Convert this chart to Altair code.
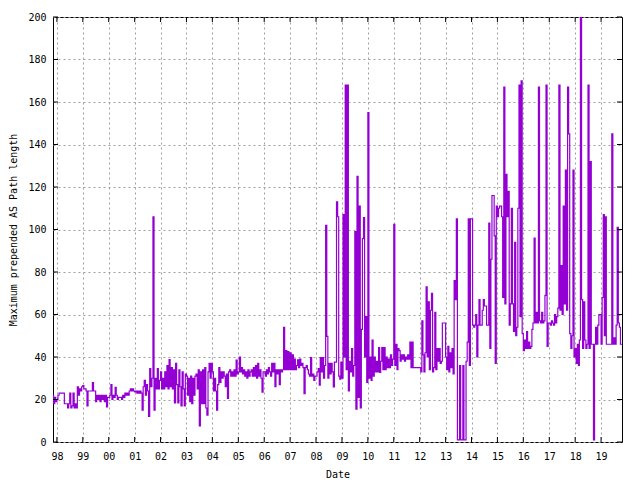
import altair as alt
import pandas as pd

# Half-month samples (index i -> month i//2+1, day 1 or 16)
y1997 = [22, 18, 21, 19]  # starts at index 20 (Nov 1997)
y1998 = [20, 22, 23, 23, 23, 23, 23, 18, 18, 18, 16, 18, 23, 16, 17, 23, 16, 18, 16, 26, 22, 25, 24, 26]
y1999 = [26.5, 25, 25, 24, 17, 24, 24, 24, 24, 28, 24, 24, 19, 22, 20, 22, 19, 22, 20, 22, 19, 22, 16.5, 21]
y2000 = [21, 22, 27, 20, 22, 21, 25.7, 22, 20, 21, 21, 21, 20, 22, 21, 23, 22, 23, 22, 24, 25, 24, 25, 24]
y2001 = [23.6, 24, 23, 24, 23, 24, 23, 15, 26, 29, 22, 27, 24, 12, 34.6, 26, 30, 106, 15, 30, 25, 34.6, 25, 29]
y2002 = [33, 25, 30, 25, 33, 26, 36, 25, 38.8, 26, 35, 25, 34, 18.4, 37, 27, 18.4, 34, 26, 17, 33, 25, 17, 32]
y2003 = [31, 22, 30, 19, 31, 18, 30, 22, 31, 32, 25, 34, 7.6, 33, 18, 34, 18, 35, 16, 12.6, 33, 37, 30, 37]
y2004 = [33, 24, 30, 24, 15, 27, 35, 28, 33, 30, 33, 31, 26, 32, 20.5, 33, 34, 31, 33, 31, 34, 31, 38.5, 32]
y2005 = [33, 40, 33, 35, 32, 34, 31, 33, 30, 34, 31, 33, 34, 31, 35, 31, 36, 30, 37, 31, 34, 30, 23.5, 33]
y2006 = [33, 31, 34, 32, 35, 33, 31, 37, 33, 37, 26, 34, 32, 34, 27, 34, 33, 34, 54, 34, 43, 34, 42.6, 34]
y2007 = [42, 34, 41, 34, 39, 34, 36, 38.7, 35, 39, 36, 37, 35, 22.7, 35, 36, 34, 32, 31, 39.7, 31, 32, 29, 31]
y2008 = [31, 33, 34.5, 26.7, 39.7, 33, 39.7, 30, 36, 102, 49.7, 30, 37, 32, 37, 33, 25.9, 37.6, 37.6, 113, 106, 31, 29.6, 37.6]
y2009 = [30, 107, 40, 168, 34, 168, 24, 38, 33, 44, 31, 36, 99, 15.5, 125, 21, 111, 16, 53, 95.7, 105.6, 40, 59, 28]
y2010 = [155, 30, 40, 29, 48, 31, 40, 33, 38, 33, 44.4, 32.7, 38, 44.4, 34, 44.4, 34, 40, 35, 39, 35, 41, 36, 39]
y2011 = [102.4, 36, 46, 34, 44, 43, 38, 41, 39, 41, 38, 40, 39, 41, 39, 47, 35, 47, 35, 35, 35, 35, 35, 35]
y2012 = [35, 33, 57, 41, 33, 42, 73, 40, 66, 34, 62, 70, 33, 35, 61, 34, 44, 38, 44, 37, 38, 56, 56, 56]
y2013 = [40, 34, 45, 33, 42, 35, 44, 32, 76, 67, 105, 1, 1, 36, 1, 1, 36, 1, 1, 38, 47, 105, 36, 105]
y2014 = [105, 55, 54, 55, 60, 40, 55, 67, 55, 55, 62, 67, 64, 64, 55, 55, 103, 44, 86, 116, 116, 97, 37, 111]
y2015 = [106, 110, 111, 111, 106, 68, 167, 65, 126, 106, 118, 55, 65, 110, 65, 52, 94, 50, 54, 110, 168, 59, 170, 51]
y2016 = [43, 48, 44, 52, 44, 47, 44, 45, 53, 56, 96, 56, 61, 56, 167, 57, 56, 61, 56, 57, 69, 168, 45, 56]
y2017 = [56, 55, 57, 56, 55, 60, 56, 59, 63, 168, 62, 83, 60, 111, 65, 128, 62, 167, 145, 51, 44, 50, 128, 40]
y2018 = [44, 37, 46, 36, 48, 200, 67, 44, 66, 48, 44, 46, 168, 44, 132, 46, 46, 1, 46, 54, 46, 55, 60, 60]
y2019 = [46, 68, 107, 50, 106, 46, 46, 46, 46, 46, 145, 46, 49, 46, 55, 101, 56, 54, 46, 46, 46]

year_labels = list(range(1998, 2020))
y_ticks = [0, 20, 40, 60, 80, 100, 120, 140, 160, 180, 200]

series = [
    (1997, 20, y1997), (1998, 0, y1998), (1999, 0, y1999), (2000, 0, y2000),
    (2001, 0, y2001), (2002, 0, y2002), (2003, 0, y2003), (2004, 0, y2004),
    (2005, 0, y2005), (2006, 0, y2006), (2007, 0, y2007), (2008, 0, y2008),
    (2009, 0, y2009), (2010, 0, y2010), (2011, 0, y2011), (2012, 0, y2012),
    (2013, 0, y2013), (2014, 0, y2014), (2015, 0, y2015), (2016, 0, y2016),
    (2017, 0, y2017), (2018, 0, y2018), (2019, 0, y2019),
]

rows = []
for yr, start, vals in series:
    for k, v in enumerate(vals):
        i = start + k
        month = min(i // 2 + 1, 12)
        day = 1 if i % 2 == 0 else 16
        rows.append({"date": f"{yr}-{month:02d}-{day:02d}", "value": v})
df = pd.DataFrame(rows)


def ms(s):
    return int(pd.Timestamp(s, tz="UTC").value // 10**6)


W, H = 569, 425
FONT = "DejaVu Sans Mono"
PURPLE = "#9400D3"

x_scale = alt.Scale(type="utc", domain=[ms("1997-11-07"), ms("2019-10-23")])
y_scale = alt.Scale(domain=[0, 200], nice=False, zero=False)

x_axis = alt.Axis(
    values=[ms(f"{y}-01-01") for y in year_labels], format="%y",
    grid=True, gridColor="#a0a0a0", gridDash=[2, 3], gridWidth=1,
    ticks=False, domain=False, labelFont=FONT, labelFontSize=10, labelColor="black",
    labelPadding=9, labelOverlap=False, labelFlush=False,
    title="Date", titleFont=FONT, titleFontSize=10, titleFontWeight="normal",
    titleColor="black", titlePadding=8,
)
y_axis = alt.Axis(
    values=y_ticks, grid=True, gridColor="#a0a0a0", gridDash=[2, 3], gridWidth=1,
    ticks=False, domain=False, labelFont=FONT, labelFontSize=10, labelColor="black",
    labelPadding=7, labelOverlap=False, labelFlush=False,
    title="Maximum prepended AS Path length", titleFont=FONT, titleFontSize=10,
    titleFontWeight="normal", titleColor="black", titlePadding=9,
)

line = alt.Chart(df).mark_line(
    interpolate="step-after", color=PURPLE, strokeWidth=1.2, clip=True
).encode(
    x=alt.X("date:T", scale=x_scale, axis=x_axis),
    y=alt.Y("value:Q", scale=y_scale, axis=y_axis),
)

ytick_df = pd.DataFrame({"value": y_ticks})
xtick_df = pd.DataFrame({"date": [f"{y}-01-01" for y in year_labels]})

tick_left = alt.Chart(ytick_df).mark_rule(color="black", strokeWidth=1).encode(
    y=alt.Y("value:Q", scale=y_scale, axis=y_axis), x=alt.value(0), x2=alt.value(5))
tick_right = alt.Chart(ytick_df).mark_rule(color="black", strokeWidth=1).encode(
    y=alt.Y("value:Q", scale=y_scale, axis=y_axis), x=alt.value(W - 5), x2=alt.value(W))
tick_bottom = alt.Chart(xtick_df).mark_rule(color="black", strokeWidth=1).encode(
    x=alt.X("date:T", scale=x_scale, axis=x_axis), y=alt.value(H), y2=alt.value(H - 5))
tick_top = alt.Chart(xtick_df).mark_rule(color="black", strokeWidth=1).encode(
    x=alt.X("date:T", scale=x_scale, axis=x_axis), y=alt.value(0), y2=alt.value(5))

chart = alt.layer(line, tick_left, tick_right, tick_bottom, tick_top).properties(
    width=W, height=H,
    autosize=alt.AutoSizeParams(type="none"),
    padding={"left": 45, "top": 9, "right": 5, "bottom": 42},
    background="white",
).configure_view(stroke="black", strokeWidth=1)

chart.save("out.html", embed_options={"renderer": "svg", "actions": False})
